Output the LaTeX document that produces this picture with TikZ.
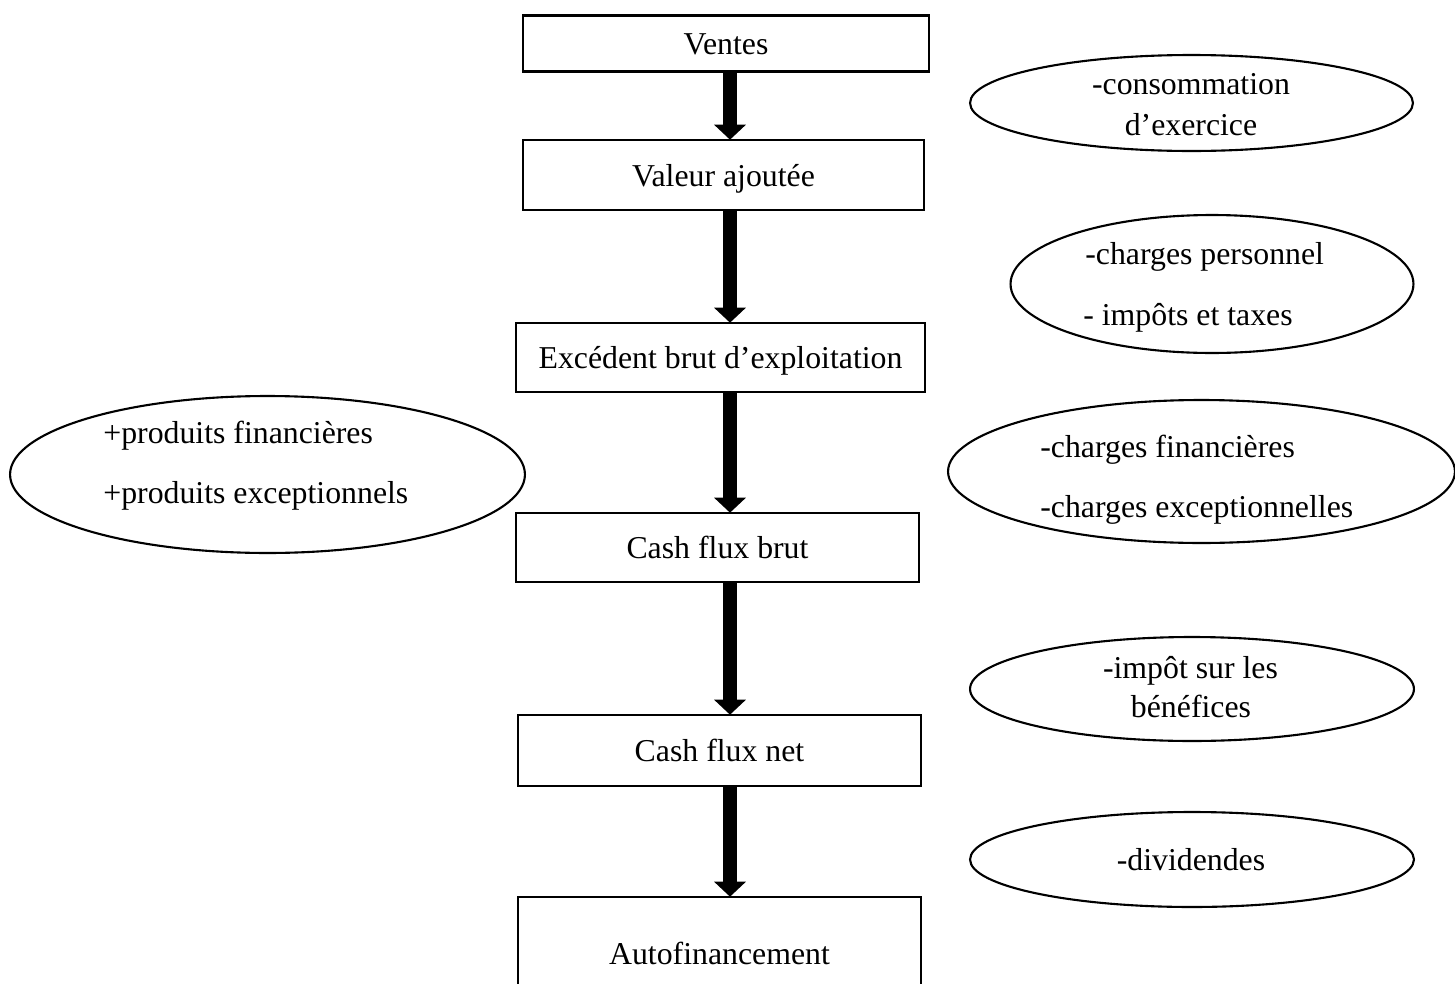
\documentclass[tikz,border=0pt]{standalone}
\usepackage{fontspec}
\setmainfont{Liberation Serif}
\usetikzlibrary{arrows.meta,shapes.geometric}
\begin{document}
\begin{tikzpicture}[x=0.02cm,y=-0.02cm,
  every node/.style={font=\fontsize{18.1pt}{22pt}\selectfont},
  stepbox/.style={draw,line width=1.35pt,inner sep=0pt,text height=0.44cm,text depth=0pt},
  oval/.style={draw,ellipse,line width=1.2pt,inner sep=0pt},
  txt/.style={inner sep=0pt,anchor=base},
  ltxt/.style={inner sep=0pt,anchor=base west},
  bigarrow/.style={line width=0.28cm,-{Triangle[width=0.62cm,length=0.3cm]},shorten >=-0.5pt}]
\clip (0,0) rectangle (1455,984);
\fill[white] (0,0) rectangle (1455,984);
\coordinate (ax) at (730,0);

% main chain of boxes
\node[stepbox,minimum width=8.12cm,minimum height=1.12cm] (ventes) at (726,43.5) {Ventes};
\node[stepbox,minimum width=8.02cm,minimum height=1.40cm] (va) at (723.5,175) {Valeur ajoutée};
\node[stepbox,minimum width=8.18cm,minimum height=1.38cm] (ebe) at (720.5,357.5) {Excédent brut d’exploitation};
\node[stepbox,minimum width=8.06cm,minimum height=1.38cm] (cfb) at (717.5,547.5) {Cash flux brut};
\node[stepbox,minimum width=8.06cm,minimum height=1.42cm] (cfn) at (719.5,750.5) {Cash flux net};
\node[stepbox,minimum width=8.06cm,minimum height=2.24cm] (af) at (719.5,953) {Autofinancement};

% arrows between the boxes
\draw[bigarrow] (ventes.south -| ax) -- (va.north -| ax);
\draw[bigarrow] (va.south -| ax) -- (ebe.north -| ax);
\draw[bigarrow] (ebe.south -| ax) -- (cfb.north -| ax);
\draw[bigarrow] (cfb.south -| ax) -- (cfn.north -| ax);
\draw[bigarrow] (cfn.south -| ax) -- (af.north -| ax);

% side ellipses
\node[oval,minimum width=8.86cm,minimum height=1.92cm] (e1) at (1191.5,103) {};
\node[txt] (e1a) at (1191,94) {-consommation};
\node[txt] (e1b) at (1191,135) {d’exercice};

\node[oval,minimum width=8.06cm,minimum height=2.76cm] (e2) at (1212,284) {};
\node[ltxt] (e2a) at (1085,264) {-charges personnel};
\node[ltxt] (e2b) at (1083,325) {- impôts et taxes};

\node[oval,minimum width=10.30cm,minimum height=3.14cm] (e3) at (267.5,474.5) {};
\node[ltxt] (e3a) at (103,443.5) {+produits financières};
\node[ltxt] (e3b) at (103,503) {+produits exceptionnels};

\node[oval,minimum width=10.14cm,minimum height=2.86cm] (e4) at (1201.5,471.5) {};
\node[ltxt] (e4a) at (1040,457) {-charges financières};
\node[ltxt] (e4b) at (1040,517) {-charges exceptionnelles};

\node[oval,minimum width=8.88cm,minimum height=2.08cm] (e5) at (1192,689) {};
\node[txt] (e5a) at (1190.5,678) {-impôt sur les};
\node[txt] (e5b) at (1191,717) {bénéfices};

\node[oval,minimum width=8.88cm,minimum height=1.90cm] (e6) at (1192,859.5) {};
\node[txt] (e6a) at (1191,870) {-dividendes};
\end{tikzpicture}
\end{document}
